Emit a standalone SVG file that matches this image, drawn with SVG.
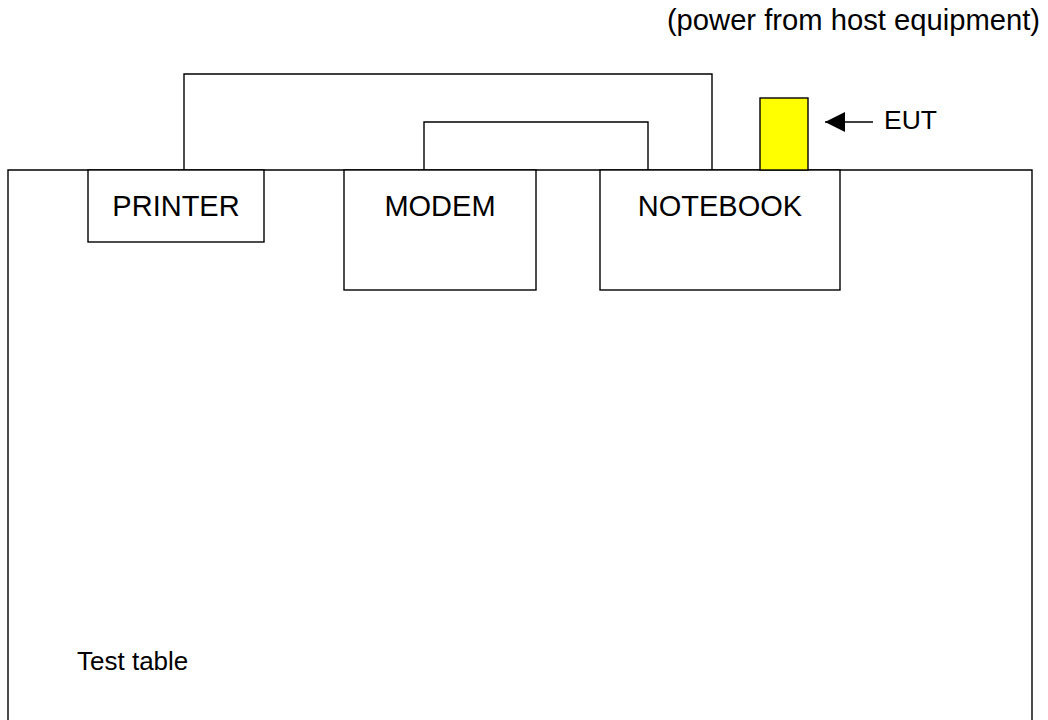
<svg xmlns="http://www.w3.org/2000/svg" width="1048" height="720" viewBox="0 0 1048 720">
<style>
.ln{fill:none;stroke:#000;stroke-width:1.4}
.bx{fill:#fff;stroke:#000;stroke-width:1.4}
.t{font-family:"Liberation Sans",Arial,sans-serif;fill:#000}
</style>
<defs>
<marker id="ah" markerWidth="20" markerHeight="20" refX="20" refY="10" orient="auto" markerUnits="userSpaceOnUse">
<path d="M0,0 L20,10 L0,20 Z" fill="#000"/>
</marker>
</defs>
<rect width="1048" height="720" fill="#fff"/>
<g id="table">
<path class="ln" d="M8,721 V170 H1032 V721" stroke-width="1.6"/>
<text class="t" x="77" y="670" font-size="26">Test table</text>
</g>
<g id="connectors">
<path class="ln" d="M184,170 V74 H712 V170"/>
<path class="ln" d="M424,170 V122 H648 V170"/>
<path class="ln" d="M873,122 H825" marker-end="url(#ah)"/>
</g>
<g id="printer">
<rect class="bx" x="88" y="170" width="176" height="72"/>
<text class="t" x="176" y="216" font-size="29" text-anchor="middle">PRINTER</text>
</g>
<g id="modem">
<rect class="bx" x="344" y="170" width="192" height="120"/>
<text class="t" x="440" y="216" font-size="29" text-anchor="middle">MODEM</text>
</g>
<g id="notebook">
<rect class="bx" x="600" y="170" width="240" height="120"/>
<text class="t" x="720" y="216" font-size="29" text-anchor="middle">NOTEBOOK</text>
</g>
<g id="eut">
<rect x="760" y="98" width="48" height="72" fill="#ffff00" stroke="#000" stroke-width="1.4"/>
<text class="t" x="884" y="129" font-size="26.5">EUT</text>
</g>
<g id="power-note">
<text class="t" x="1040" y="30" font-size="29.2" text-anchor="end">(power from host equipment)</text>
</g>
</svg>
